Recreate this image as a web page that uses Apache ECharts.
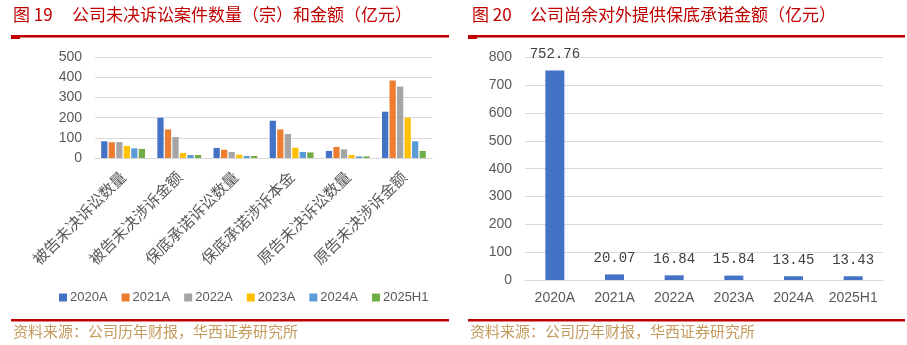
<!DOCTYPE html>
<html>
<head>
<meta charset="utf-8">
<script src="https://cdn.jsdelivr.net/npm/echarts@6/dist/echarts.min.js"></script>
<style>
html,body{margin:0;padding:0;background:#fff;}
#chart{width:907px;height:345px;}
</style>
</head>
<body>
<div id="chart"></div>
<script>
// Left chart data
var leftCategories = ['被告未决诉讼数量','被告未决涉诉金额','保底承诺诉讼数量','保底承诺涉诉本金','原告未决诉讼数量','原告未决涉诉金额'];
var seriesNames = ['2020A','2021A','2022A','2023A','2024A','2025H1'];
var s2020A = [83, 200, 50, 185, 35, 230];
var s2021A = [78, 142, 41, 142, 55, 385];
var s2022A = [79, 104, 30, 119, 43, 355];
var s2023A = [60, 25, 17, 51, 15, 200];
var s2024A = [48, 15, 10, 30, 8, 83];
var s2025H1 = [45, 15, 10, 28, 8, 35];
var leftTicks = [0, 100, 200, 300, 400, 500];

// Right chart data
var rightCategories = ['2020A','2021A','2022A','2023A','2024A','2025H1'];
var guaranteeValues = [752.76, 20.07, 16.84, 15.84, 13.45, 13.43];
var rightTicks = [0, 100, 200, 300, 400, 500, 600, 700, 800];

var colors = ['#4472C4','#ED7D31','#A5A5A5','#FFC000','#5B9BD5','#70AD47'];
var leftData = [s2020A, s2021A, s2022A, s2023A, s2024A, s2025H1];

var chart = echarts.init(document.getElementById('chart'), null, {renderer:'canvas'});
var RED = '#C00000';
var SRC = '#C49A5C';
var CJK = '"Noto Sans CJK SC", sans-serif';
var LAT = '"Liberation Sans", Arial, sans-serif';

var leftSeries = seriesNames.map(function(n, i){
  return {
    name: n, type: 'bar', xAxisIndex: 0, yAxisIndex: 0,
    data: leftData[i], barGap: '20%', barCategoryGap: '22%',
    itemStyle: {color: colors[i]}
  };
});

var option = {
  animation: false,
  color: colors,
  grid: [
    {left: 95, right: 475, top: 57.3, bottom: 187, containLabel: false},
    {left: 525, right: 24, top: 57.3, bottom: 65, containLabel: false}
  ],
  legend: {
    data: seriesNames, left: 54, top: 286, itemWidth: 8, itemHeight: 8, itemGap: 14,
    icon: 'rect',
    textStyle: {fontFamily: LAT, fontSize: 13, color: '#595959', padding: [0,0,0,-2]}
  },
  xAxis: [
    {type: 'category', gridIndex: 0, data: leftCategories,
     axisLine: {lineStyle: {color: '#D9D9D9'}}, axisTick: {show: false},
     axisLabel: {rotate: 45, margin: 16, interval: 0, fontFamily: CJK, fontSize: 15.5, color: '#595959'}},
    {type: 'category', gridIndex: 1, data: rightCategories,
     axisLine: {lineStyle: {color: '#D9D9D9'}}, axisTick: {show: false},
     axisLabel: {margin: 11, interval: 0, fontFamily: LAT, fontSize: 14, color: '#595959'}}
  ],
  yAxis: [
    {type: 'value', gridIndex: 0, min: leftTicks[0], max: leftTicks[leftTicks.length-1], interval: 100,
     axisLine: {show: false}, axisTick: {show: false},
     splitLine: {lineStyle: {color: '#D9D9D9'}},
     axisLabel: {margin: 13, fontFamily: LAT, fontSize: 14, color: '#595959'}},
    {type: 'value', gridIndex: 1, min: rightTicks[0], max: rightTicks[rightTicks.length-1], interval: 100,
     axisLine: {show: false}, axisTick: {show: false},
     splitLine: {lineStyle: {color: '#D9D9D9'}},
     axisLabel: {margin: 13, fontFamily: LAT, fontSize: 14, color: '#595959'}}
  ],
  series: leftSeries.concat([
    {name: '保底承诺金额', type: 'bar', xAxisIndex: 1, yAxisIndex: 1, data: guaranteeValues,
     barWidth: 19, itemStyle: {color: '#4472C4'},
     label: {show: true, position: 'top', distance: 9, fontFamily: '"Liberation Mono", "DejaVu Sans Mono", monospace',
             fontSize: 14, color: '#404040', formatter: function(p){ return p.value.toFixed(2); }}}
  ]),
  graphic: [
    {type: 'text', left: 13, top: 6, style: {text: '图 19', fontFamily: CJK, fontSize: 17, fill: RED}},
    {type: 'text', left: 72, top: 6, style: {text: '公司未决诉讼案件数量（宗）和金额（亿元）', fontFamily: CJK, fontSize: 17, fill: RED}},
    {type: 'rect', shape: {x: 11, y: 35, width: 438, height: 2.5}, style: {fill: RED}},
    {type: 'rect', shape: {x: 11, y: 36, width: 9, height: 3}, style: {fill: RED}},
    {type: 'text', left: 472, top: 6, style: {text: '图 20', fontFamily: CJK, fontSize: 17, fill: RED}},
    {type: 'text', left: 530, top: 6, style: {text: '公司尚余对外提供保底承诺金额（亿元）', fontFamily: CJK, fontSize: 17, fill: RED}},
    {type: 'rect', shape: {x: 468, y: 35, width: 437, height: 2.5}, style: {fill: RED}},
    {type: 'rect', shape: {x: 468, y: 36, width: 9, height: 3}, style: {fill: RED}},
    {type: 'rect', shape: {x: 11, y: 319, width: 438, height: 2.5}, style: {fill: RED}},
    {type: 'rect', shape: {x: 468, y: 319, width: 437, height: 2.5}, style: {fill: RED}},
    {type: 'text', left: 13, top: 324, style: {text: '资料来源：公司历年财报，华西证券研究所', fontFamily: CJK, fontSize: 15, fill: SRC}},
    {type: 'text', left: 470, top: 324, style: {text: '资料来源：公司历年财报，华西证券研究所', fontFamily: CJK, fontSize: 15, fill: SRC}}
  ]
};
chart.setOption(option);
</script>
</body>
</html>
